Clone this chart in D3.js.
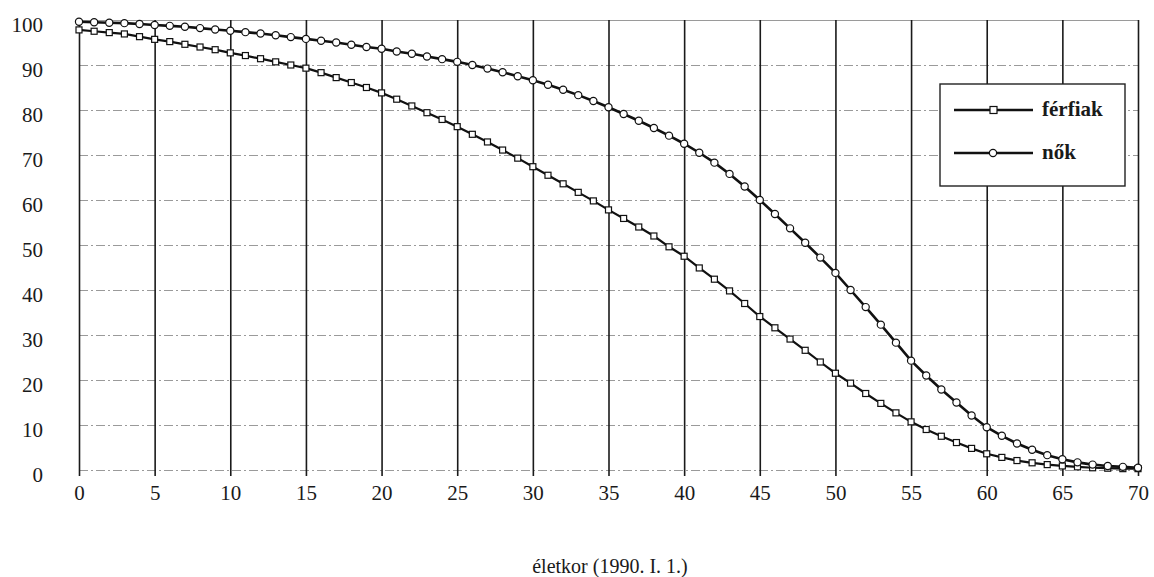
<!DOCTYPE html>
<html>
<head>
<meta charset="utf-8">
<script src="https://cdn.jsdelivr.net/npm/d3@7"></script>
<style>
  body { margin: 0; background: #fff; }
  svg { display: block; }
  text { font-family: "Liberation Serif", "DejaVu Serif", serif; }
</style>
</head>
<body>
<svg id="chart" width="1154" height="577"></svg>
<script>
// ages 0..70
const ages = d3.range(0, 71);

// férfiak (men) – share surviving, %
const ferfiak = [
  97.8, 97.5, 97.2, 96.9, 96.3, 95.7, 95.2, 94.6, 94.0, 93.4,
  92.7, 92.1, 91.4, 90.7, 90.0, 89.3, 88.3, 87.2, 86.1, 85.0,
  83.8, 82.4, 80.9, 79.4, 77.9, 76.3, 74.6, 72.9, 71.1, 69.3,
  67.4, 65.5, 63.6, 61.7, 59.8, 57.8, 55.9, 54.0, 52.0, 49.6,
  47.5, 44.9, 42.4, 39.8, 37.0, 34.1, 31.6, 29.1, 26.6, 24.0,
  21.5, 19.3, 17.0, 14.8, 12.7, 10.7, 9.0, 7.5, 6.1, 4.8,
  3.6, 2.8, 2.1, 1.6, 1.2, 0.9, 0.7, 0.5, 0.4, 0.3, 0.3
];

// nők (women) – share surviving, %
const nok = [
  99.6, 99.5, 99.4, 99.3, 99.1, 98.9, 98.7, 98.5, 98.2, 97.9,
  97.6, 97.3, 97.0, 96.6, 96.2, 95.8, 95.4, 95.0, 94.5, 94.0,
  93.6, 93.0, 92.5, 91.9, 91.3, 90.7, 90.0, 89.2, 88.4, 87.5,
  86.6, 85.6, 84.5, 83.3, 82.0, 80.6, 79.1, 77.6, 76.0, 74.3,
  72.5, 70.5, 68.3, 65.8, 63.0, 60.0, 56.9, 53.7, 50.5, 47.2,
  43.8, 40.0, 36.2, 32.3, 28.3, 24.3, 21.0, 17.9, 15.0, 12.1,
  9.5, 7.6, 5.9, 4.5, 3.3, 2.4, 1.7, 1.2, 0.9, 0.7, 0.5
];

const xTicks = d3.range(0, 71, 5);
const yTicks = d3.range(0, 101, 10);
const seriesNames = ["férfiak", "nők"];
const xTitle = "életkor (1990. I. 1.)";

const svg = d3.select("#chart");
const x = d3.scaleLinear().domain([0, 70]).range([79, 1138]);
const y = d3.scaleLinear().domain([0, 100]).range([470, 20]);

// horizontal grid + y labels
const yAxis = svg.append("g")
  .attr("transform", `translate(${x(0)},0)`)
  .call(d3.axisLeft(y).tickValues(yTicks).tickSize(-(x(70) - x(0))).tickPadding(36).tickFormat(d3.format("d")));
yAxis.select(".domain").remove();
yAxis.selectAll(".tick line")
  .attr("stroke", "#9a9a9a")
  .attr("stroke-width", 1.2)
  .attr("stroke-dasharray", d => d === 100 ? null : "9,3,2,3");
yAxis.selectAll(".tick text")
  .attr("font-size", 21).attr("fill", "#1a1a1a").attr("dy", "0.55em");

// vertical grid + x labels
const xAxis = svg.append("g")
  .attr("transform", `translate(0,${y(0) + 6})`)
  .call(d3.axisBottom(x).tickValues(xTicks).tickSize(-(y(0) + 6 - y(100))).tickPadding(9).tickFormat(d3.format("d")));
xAxis.select(".domain").remove();
xAxis.selectAll(".tick line").attr("stroke", "#1a1a1a").attr("stroke-width", 1.6);
xAxis.selectAll(".tick text").attr("font-size", 21).attr("fill", "#1a1a1a");

// axis title
svg.append("text")
  .attr("x", 610).attr("y", 573)
  .attr("text-anchor", "middle")
  .attr("font-size", 20).attr("fill", "#1a1a1a")
  .text(xTitle);

const line = d3.line().x((d, i) => x(ages[i])).y(d => y(d));

// men
svg.append("path").datum(ferfiak)
  .attr("d", line).attr("fill", "none").attr("stroke", "#111").attr("stroke-width", 2.2);
svg.append("g").selectAll("rect").data(ferfiak).join("rect")
  .attr("x", (d, i) => x(ages[i]) - 3).attr("y", d => y(d) - 3)
  .attr("width", 6).attr("height", 6)
  .attr("fill", "#fff").attr("stroke", "#111").attr("stroke-width", 1.2);

// women
svg.append("path").datum(nok)
  .attr("d", line).attr("fill", "none").attr("stroke", "#111").attr("stroke-width", 2.6);
svg.append("g").selectAll("circle").data(nok).join("circle")
  .attr("cx", (d, i) => x(ages[i])).attr("cy", d => y(d))
  .attr("r", 3.6)
  .attr("fill", "#fff").attr("stroke", "#111").attr("stroke-width", 1.2);

// legend
const lg = svg.append("g");
lg.append("rect").attr("x", 940).attr("y", 84).attr("width", 185).attr("height", 102)
  .attr("fill", "#fff").attr("stroke", "#222").attr("stroke-width", 1.4);
const rows = [110, 153];
seriesNames.forEach((name, i) => {
  const yy = rows[i];
  lg.append("line").attr("x1", 954).attr("x2", 1033).attr("y1", yy).attr("y2", yy)
    .attr("stroke", "#111").attr("stroke-width", 2.4);
  if (i === 0) {
    lg.append("rect").attr("x", 990).attr("y", yy - 3.5).attr("width", 7).attr("height", 7)
      .attr("fill", "#fff").attr("stroke", "#111").attr("stroke-width", 1.2);
  } else {
    lg.append("circle").attr("cx", 993).attr("cy", yy).attr("r", 3.6)
      .attr("fill", "#fff").attr("stroke", "#111").attr("stroke-width", 1.2);
  }
  lg.append("text").attr("x", 1042).attr("y", yy + 6)
    .attr("font-size", 21).attr("font-weight", "bold").attr("fill", "#1a1a1a").text(name);
});
</script>
</body>
</html>
